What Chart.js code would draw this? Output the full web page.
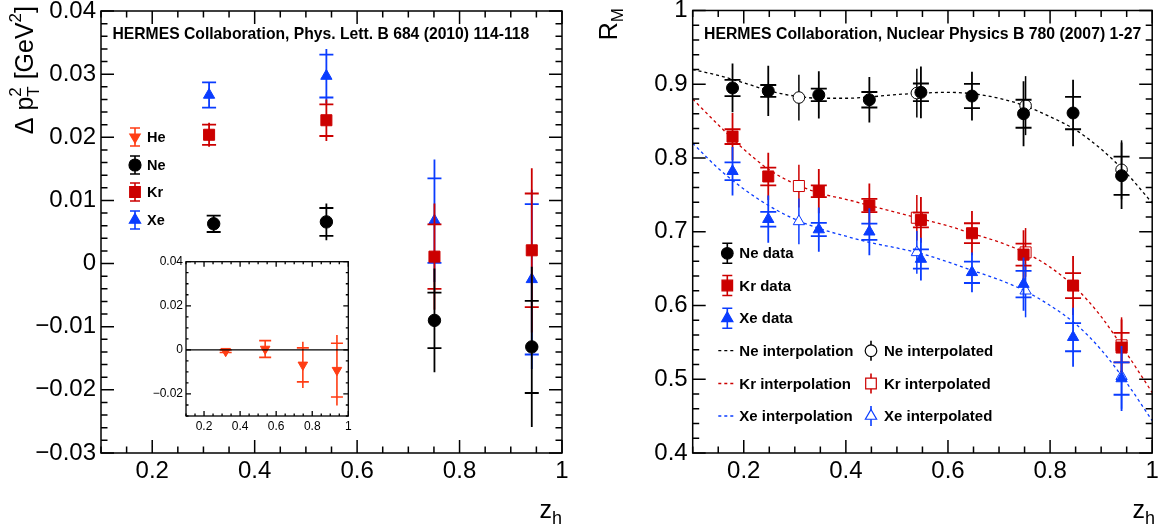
<!DOCTYPE html>
<html>
<head>
<meta charset="utf-8">
<script src="https://cdn.jsdelivr.net/npm/chart.js@4.4.1/dist/chart.umd.min.js"></script>
<style>
html,body{margin:0;padding:0;background:#fff;overflow:hidden}
#wrap{position:relative;width:1161px;height:532px}
#wrap canvas{position:absolute;left:0;top:0;width:1161px;height:532px}
</style>
</head>
<body>
<div id="wrap">
  <canvas id="c-left" width="1161" height="532"></canvas>
  <canvas id="c-right" width="1161" height="532"></canvas>
  <canvas id="c-inset" width="1161" height="532"></canvas>
</div>
<script>
// HERMES: Δp_T^2 (gauche) et R_M (droite) en fonction de z_h.

// --- panneau gauche : Δ p_T^2 [GeV^2]
const zLeft=[0.311,0.54,0.751,0.941];
const zLeftNe=[0.32,0.54,0.751,0.941];
const dptNe=[0.0063,0.0066,-0.0090,-0.0132];
const dptNeStat=[0.0014,0.0029,0.0082,0.0127];
const dptNeSys=[0.0013,0.0022,0.0044,0.0073];
const dptKr=[0.0204,0.0227,0.0011,0.0021];
const dptKrStat=[0.0019,0.0033,0.0084,0.0130];
const dptKrSys=[0.0016,0.0025,0.0051,0.0090];
const dptXe=[0.0267,0.0297,0.0068,-0.0025];
const dptXeStat=[0.0021,0.0043,0.0097,0.0142];
const dptXeSys=[0.0020,0.0034,0.0067,0.0119];

// --- encart : He
const zHe=[0.32,0.539,0.748,0.937];
const dptHe=[-0.0006,0.0004,-0.0068,-0.0092];
const dptHeStat=[0.0009,0.0040,0.0105,0.0160];
const dptHeSys=[0.0006,0.0038,0.0077,0.0122];

// --- panneau droit : R_M
const zData=[0.178,0.248,0.347,0.446,0.547,0.647,0.748,0.845,0.940];
const rmNe=[0.895,0.891,0.8855,0.879,0.889,0.884,0.860,0.861,0.776];
const rmNeStat=[0.033,0.034,0.032,0.031,0.035,0.033,0.044,0.045,0.045];
const rmNeSys=[0.011,0.008,0.0085,0.0105,0.012,0.0165,0.019,0.022,0.026];
const rmKr=[0.829,0.775,0.755,0.7355,0.716,0.698,0.669,0.627,0.543];
const rmKrStat=[0.032,0.032,0.030,0.030,0.031,0.030,0.033,0.040,0.038];
const rmKrSys=[0.010,0.012,0.008,0.009,0.010,0.0135,0.015,0.017,0.020];
const rmXe=[0.782,0.717,0.703,0.700,0.663,0.645,0.629,0.557,0.501];
const rmXeStat=[0.033,0.032,0.030,0.032,0.029,0.027,0.036,0.040,0.044];
const rmXeSys=[0.012,0.010,0.009,0.011,0.013,0.0145,0.018,0.019,0.022];

const zInterp=[0.308,0.539,0.752,0.940];
const rmNeInt=[0.882,0.888,0.871,0.784];
const rmNeIntStat=[0.031,0.033,0.040,0.040];
const rmKrInt=[0.762,0.719,0.672,0.546];
const rmKrIntStat=[0.029,0.031,0.033,0.038];
const rmXeInt=[0.714,0.672,0.620,0.504];
const rmXeIntStat=[0.031,0.029,0.036,0.044];

const zCurve=[0.1,0.15,0.2,0.25,0.3,0.35,0.4,0.45,0.5,0.55,0.6,0.65,0.7,0.75,0.8,0.85,0.9,0.95,1.0];
const curveNe=[0.920,0.912,0.902,0.891,0.884,0.881,0.881,0.883,0.886,0.888,0.889,0.887,0.881,0.871,0.856,0.838,0.812,0.779,0.739];
const curveKr=[0.880,0.845,0.812,0.784,0.765,0.752,0.744,0.735,0.726,0.717,0.708,0.697,0.686,0.672,0.652,0.624,0.585,0.535,0.482];
const curveXe=[0.820,0.786,0.758,0.735,0.717,0.704,0.694,0.685,0.678,0.670,0.659,0.647,0.635,0.620,0.600,0.575,0.540,0.495,0.444];

// --- graduations
const xTicks=[0.2,0.4,0.6,0.8,1.0];
const xLabels=['0.2','0.4','0.6','0.8','1'];
const leftYTicks=[-0.03,-0.02,-0.01,0,0.01,0.02,0.03,0.04];
const leftYLabels=['\u22120.03','\u22120.02','\u22120.01','0','0.01','0.02','0.03','0.04'];
const insetYTicks=[-0.02,0,0.02,0.04];
const insetYLabels=['\u22120.02','0','0.02','0.04'];
const rightYTicks=[0.4,0.5,0.6,0.7,0.8,0.9,1.0];
const rightYLabels=['0.4','0.5','0.6','0.7','0.8','0.9','1'];

const leftLegendLabels=['He','Ne','Kr','Xe'];
const rightLegendLabels=['Ne data','Kr data','Xe data','Ne interpolation','Kr interpolation','Xe interpolation','Ne interpolated','Kr interpolated','Xe interpolated'];

const FONT='"Liberation Sans", Arial, Helvetica, sans-serif';
const BLACK='#000000',RED='#cc0000',BLUE='#0a3cff',ORANGE='#ff3d14';

const pts=(xs,ys)=>xs.map((x,i)=>({x,y:ys[i]}));

function drawMarker(ctx,style,x,y,r,rot,fill,stroke){
  ctx.save();
  ctx.fillStyle=fill;ctx.strokeStyle=stroke;ctx.lineWidth=1.2;
  if(Chart.helpers&&Chart.helpers.drawPoint){
    Chart.helpers.drawPoint(ctx,{pointStyle:style,radius:r,rotation:rot||0,borderWidth:1.2},x,y);
  }else{
    ctx.beginPath();
    if(style==='circle') ctx.arc(x,y,r,0,Math.PI*2);
    else if(style==='rect'){const s=r*Math.SQRT1_2;ctx.rect(x-s,y-s,2*s,2*s);}
    else{const d=rot?-1:1;ctx.moveTo(x,y-d*r);ctx.lineTo(x+r*0.866,y+d*r/2);ctx.lineTo(x-r*0.866,y+d*r/2);ctx.closePath();}
    ctx.fill();ctx.stroke();
  }
  ctx.restore();
}

// texte avec indices / exposants ; un tableau = éléments empilés
function drawParts(ctx,x,y,parts,angle,alignRight){
  ctx.save();ctx.translate(x,y);ctx.rotate(angle||0);
  ctx.fillStyle='#000';ctx.textBaseline='alphabetic';ctx.textAlign='left';
  const groups=parts.map(p=>Array.isArray(p)?p:[p]);
  const widths=groups.map(g=>Math.max(...g.map(p=>{ctx.font=(p.bold?'bold ':'')+p.size+'px '+FONT;return ctx.measureText(p.t).width;})));
  let cx=alignRight?-widths.reduce((a,b)=>a+b,0):0;
  groups.forEach((g,i)=>{
    g.forEach(p=>{ctx.font=(p.bold?'bold ':'')+p.size+'px '+FONT;ctx.fillText(p.t,cx,p.dy||0);});
    cx+=widths[i];
  });
  ctx.restore();
}

const errorBars={
  id:'errorBars',
  beforeDatasetDraw(chart,args){
    const ds=chart.data.datasets[args.index];
    if(!ds.stat) return;
    const {ctx,scales:{x,y}}=chart;
    ctx.save();
    ctx.strokeStyle=ds.borderColor;ctx.lineWidth=ds.errWidth||1.8;
    ds.data.forEach((p,i)=>{
      const px=x.getPixelForValue(p.x);
      ctx.beginPath();
      ctx.moveTo(px,y.getPixelForValue(p.y+ds.stat[i]));
      ctx.lineTo(px,y.getPixelForValue(p.y-ds.stat[i]));
      if(ds.sys){
        [p.y+ds.sys[i],p.y-ds.sys[i]].forEach(v=>{
          const py=y.getPixelForValue(v);
          ctx.moveTo(px-ds.capHalf,py);ctx.lineTo(px+ds.capHalf,py);
        });
      }
      ctx.stroke();
    });
    ctx.restore();
  }
};

// cadre façon ROOT : graduations vers l'intérieur sur les quatre côtés
const frameTicks={
  id:'frameTicks',
  afterDatasetsDraw(chart,args,o){
    const {ctx,chartArea:a,scales:{x,y}}=chart;
    ctx.save();
    ctx.strokeStyle='#000';
    if(o.zero){
      ctx.lineWidth=1.2;ctx.beginPath();
      const py=y.getPixelForValue(0);ctx.moveTo(a.left,py);ctx.lineTo(a.right,py);ctx.stroke();
    }
    ctx.lineWidth=o.lw;
    ctx.beginPath();
    const marks=(min,max,step)=>{const out=[];for(let k=Math.ceil(min/step-1e-6);k*step<=max+1e-9;k++) out.push(k*step);return out;};
    const isMajor=(v,step)=>Math.abs(v/step-Math.round(v/step))<1e-6;
    marks(x.min,x.max,o.xMinor).forEach(v=>{
      const L=isMajor(v,o.xMajor)?o.major:o.minor;const px=x.getPixelForValue(v);
      ctx.moveTo(px,a.bottom);ctx.lineTo(px,a.bottom-L);
      ctx.moveTo(px,a.top);ctx.lineTo(px,a.top+L);
    });
    marks(y.min,y.max,o.yMinor).forEach(v=>{
      const L=isMajor(v,o.yMajor)?o.major:o.minor;const py=y.getPixelForValue(v);
      ctx.moveTo(a.left,py);ctx.lineTo(a.left+L,py);
      ctx.moveTo(a.right,py);ctx.lineTo(a.right-L,py);
    });
    ctx.stroke();
    ctx.strokeRect(a.left,a.top,a.right-a.left,a.bottom-a.top);
    ctx.restore();
  }
};

const legendBox={
  id:'legendBox',
  afterDraw(chart,args,o){
    if(!o.items) return;
    const ctx=chart.ctx;
    ctx.save();
    o.items.forEach(it=>{
      ctx.strokeStyle=it.color;
      if(it.kind==='line'){
        ctx.lineWidth=1.3;ctx.setLineDash([3,3]);
        ctx.beginPath();ctx.moveTo(it.x-9,it.y);ctx.lineTo(it.x+9,it.y);ctx.stroke();
        ctx.setLineDash([]);
      }else{
        ctx.lineWidth=1.6;ctx.beginPath();
        ctx.moveTo(it.x,it.y-it.bar);ctx.lineTo(it.x,it.y+it.bar);
        if(it.cap){
          ctx.moveTo(it.x-it.cap,it.y-it.bar);ctx.lineTo(it.x+it.cap,it.y-it.bar);
          ctx.moveTo(it.x-it.cap,it.y+it.bar);ctx.lineTo(it.x+it.cap,it.y+it.bar);
        }
        ctx.stroke();
        drawMarker(ctx,it.style,it.x,it.y,it.r,it.rot,it.open?'#fff':it.color,it.color);
      }
      ctx.fillStyle='#000';ctx.font='bold '+o.size+'px '+FONT;
      ctx.textBaseline='middle';ctx.textAlign='left';
      ctx.fillText(it.label,it.tx,it.y+1);
    });
    ctx.restore();
  }
};

const texts={
  id:'texts',
  afterDraw(chart,args,o){
    if(o.draw) o.draw(chart.ctx);
  }
};

function scales(p){
  return {
    x:{type:'linear',min:0.1,max:1,
      grid:{display:false,drawTicks:false},border:{display:false},
      afterBuildTicks:s=>{s.ticks=xTicks.map(v=>({value:v}));},
      afterFit:s=>{s.height=p.xHeight;s.paddingLeft=0;s.paddingRight=0;},
      ticks:{autoSkip:false,maxRotation:0,minRotation:0,padding:p.xPad,color:'#000',
        font:{family:FONT,size:p.font},callback:(v,i)=>xLabels[i]}},
    y:{type:'linear',min:p.yMin,max:p.yMax,
      grid:{display:false,drawTicks:false},border:{display:false},
      afterBuildTicks:s=>{s.ticks=p.yTicks.map(v=>({value:v}));},
      afterFit:s=>{s.width=p.yWidth;s.paddingTop=0;s.paddingBottom=0;},
      ticks:{autoSkip:false,padding:p.yPad,color:'#000',
        font:{family:FONT,size:p.font},callback:(v,i)=>p.yLabels[i]}}
  };
}

function dataSet(label,xs,ys,stat,sys,style,r,color,extra){
  return Object.assign({type:'scatter',label,data:pts(xs,ys),stat,sys,
    pointStyle:style,pointRadius:r,pointHoverRadius:r,
    backgroundColor:color,borderColor:color,pointBorderWidth:1,capHalf:7},extra||{});
}
function curve(label,ys,color){
  return {type:'line',label,data:pts(zCurve,ys),showLine:true,pointRadius:0,
    borderColor:color,borderWidth:1.3,borderDash:[3,3],cubicInterpolationMode:'monotone',fill:false};
}

// ---------- panneau gauche
new Chart(document.getElementById('c-left'),{
  type:'scatter',
  data:{datasets:[
    dataSet('Ne',zLeftNe,dptNe,dptNeStat,dptNeSys,'circle',6.2,BLACK),
    dataSet('Kr',zLeft,dptKr,dptKrStat,dptKrSys,'rect',7.8,RED),
    dataSet('Xe',zLeft,dptXe,dptXeStat,dptXeSys,'triangle',6.5,BLUE)
  ]},
  options:{
    responsive:false,animation:false,events:[],
    layout:{padding:{left:0,right:599,top:11,bottom:0}},
    scales:scales({xHeight:79,yWidth:101,yMin:-0.03,yMax:0.04,yTicks:leftYTicks,yLabels:leftYLabels,font:24,xPad:4,yPad:5}),
    plugins:{
      legend:{display:false},tooltip:{enabled:false},
      frameTicks:{lw:1.5,major:13,minor:6.5,xMajor:0.2,xMinor:0.05,yMajor:0.01,yMinor:0.002},
      legendBox:{size:14.5,items:[
        {label:leftLegendLabels[0],x:135,y:137,tx:147,style:'triangle',rot:180,r:6,color:ORANGE,bar:9,cap:5},
        {label:leftLegendLabels[1],x:135,y:165,tx:147,style:'circle',r:6,color:BLACK,bar:9,cap:5},
        {label:leftLegendLabels[2],x:135,y:192,tx:147,style:'rect',r:7.5,color:RED,bar:9,cap:5},
        {label:leftLegendLabels[3],x:135,y:220,tx:147,style:'triangle',r:6.5,color:BLUE,bar:9,cap:5}
      ]},
      texts:{draw:ctx=>{
        drawParts(ctx,112.5,38.5,[{t:'HERMES Collaboration, Phys. Lett. B 684 (2010) 114-118',size:15.7,bold:true}]);
        drawParts(ctx,33,6,[{t:'\u0394 p',size:25},[{t:'2',size:17,dy:-12},{t:'T',size:17,dy:6}],{t:' [GeV',size:25},{t:'2',size:17,dy:-12},{t:']',size:25}],-Math.PI/2,true);
        drawParts(ctx,562,518,[{t:'z',size:25},{t:'h',size:18,dy:6}],0,true);
      }}
    }
  },
  plugins:[errorBars,frameTicks,legendBox,texts]
});

// ---------- encart He
new Chart(document.getElementById('c-inset'),{
  type:'scatter',
  data:{datasets:[
    dataSet('He',zHe,dptHe,dptHeStat,dptHeSys,'triangle',5.5,ORANGE,{pointRotation:180,capHalf:6,errWidth:1.6})
  ]},
  options:{
    responsive:false,animation:false,events:[],
    layout:{padding:{left:0,right:812.7,top:261.7,bottom:0}},
    scales:scales({xHeight:116,yWidth:186,yMin:-0.03,yMax:0.04,yTicks:insetYTicks,yLabels:insetYLabels,font:12,xPad:3,yPad:3}),
    plugins:{
      legend:{display:false},tooltip:{enabled:false},
      frameTicks:{lw:1.3,major:5,minor:2.5,xMajor:0.2,xMinor:0.05,yMajor:0.02,yMinor:0.005,zero:true}
    }
  },
  plugins:[errorBars,frameTicks]
});

// ---------- panneau droit
new Chart(document.getElementById('c-right'),{
  type:'scatter',
  data:{datasets:[
    dataSet('Xe data',zData,rmXe,rmXeStat,rmXeSys,'triangle',6.5,BLUE,{capHalf:8}),
    dataSet('Kr data',zData,rmKr,rmKrStat,rmKrSys,'rect',7.8,RED,{capHalf:8}),
    dataSet('Ne data',zData,rmNe,rmNeStat,rmNeSys,'circle',6,BLACK,{capHalf:8}),
    dataSet('Xe interpolated',zInterp,rmXeInt,rmXeIntStat,null,'triangle',6.5,BLUE,{backgroundColor:'#fff',errWidth:1.5}),
    dataSet('Kr interpolated',zInterp,rmKrInt,rmKrIntStat,null,'rect',7.8,RED,{backgroundColor:'#fff',errWidth:1.5}),
    dataSet('Ne interpolated',zInterp,rmNeInt,rmNeIntStat,null,'circle',5.8,BLACK,{backgroundColor:'#fff',errWidth:1.5}),
    curve('Xe interpolation',curveXe,BLUE),
    curve('Kr interpolation',curveKr,RED),
    curve('Ne interpolation',curveNe,BLACK)
  ]},
  options:{
    responsive:false,animation:false,events:[],
    layout:{padding:{left:580,right:7,top:10.5,bottom:0}},
    scales:scales({xHeight:79,yWidth:112.7,yMin:0.4,yMax:1,yTicks:rightYTicks,yLabels:rightYLabels,font:24,xPad:4,yPad:5}),
    plugins:{
      legend:{display:false},tooltip:{enabled:false},
      frameTicks:{lw:1.5,major:13,minor:6.5,xMajor:0.2,xMinor:0.05,yMajor:0.1,yMinor:0.02},
      legendBox:{size:15,items:[
        {label:rightLegendLabels[0],x:727.3,y:253.3,tx:739.3,style:'circle',r:5.8,color:BLACK,bar:10,cap:5},
        {label:rightLegendLabels[1],x:727.3,y:285.5,tx:739.3,style:'rect',r:7.5,color:RED,bar:10,cap:5},
        {label:rightLegendLabels[2],x:727.3,y:318.3,tx:739.3,style:'triangle',r:6.5,color:BLUE,bar:10,cap:5},
        {label:rightLegendLabels[3],kind:'line',x:727.3,y:350.7,tx:739.3,color:BLACK},
        {label:rightLegendLabels[4],kind:'line',x:727.3,y:383.5,tx:739.3,color:RED},
        {label:rightLegendLabels[5],kind:'line',x:727.3,y:416,tx:739.3,color:BLUE},
        {label:rightLegendLabels[6],x:871,y:350.7,tx:884,style:'circle',r:5.8,color:BLACK,bar:10,open:true},
        {label:rightLegendLabels[7],x:871,y:383.5,tx:884,style:'rect',r:7.5,color:RED,bar:10,open:true},
        {label:rightLegendLabels[8],x:871,y:416,tx:884,style:'triangle',r:6.5,color:BLUE,bar:10,open:true}
      ]},
      texts:{draw:ctx=>{
        drawParts(ctx,704,38.5,[{t:'HERMES Collaboration, Nuclear Physics B 780 (2007) 1-27',size:15.8,bold:true}]);
        drawParts(ctx,617,8,[{t:'R',size:25},{t:'M',size:17,dy:6}],-Math.PI/2,true);
        drawParts(ctx,1155,518,[{t:'z',size:25},{t:'h',size:18,dy:6}],0,true);
      }}
    }
  },
  plugins:[errorBars,frameTicks,legendBox,texts]
});
</script>
</body>
</html>
